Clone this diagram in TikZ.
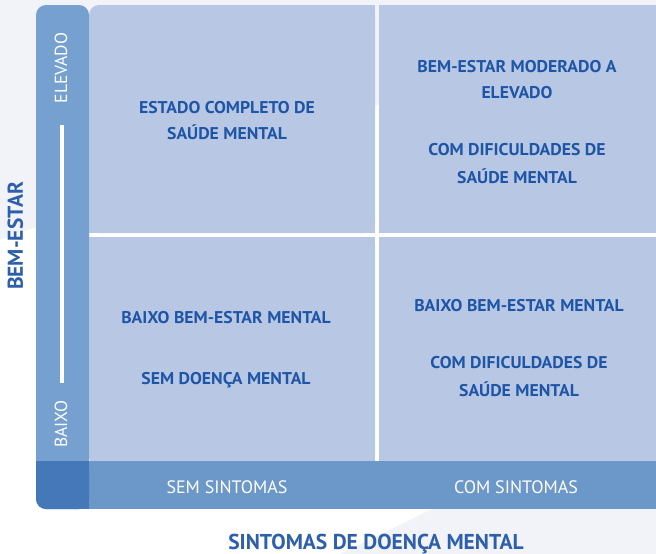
\documentclass[tikz,border=0pt]{standalone}
\usepackage{fontspec}
\setmainfont{PT Sans}
\newfontfamily\cellfont{PT Sans}[FakeStretch=1.04]
\begin{document}
\begin{tikzpicture}[x=1pt,y=-1pt,
  celltxt/.style={font=\cellfont\bfseries\fontsize{17}{27}\selectfont, text=txtblue, align=center, anchor=base, inner sep=0pt},
  axtxt/.style={font=\fontsize{18}{20}\selectfont, text=white, anchor=base, inner sep=0pt},
  vaxtxt/.style={font=\fontsize{17.5}{20}\selectfont, text=white, anchor=base, inner sep=0pt, rotate=90},
  titletxt/.style={font=\bfseries\fontsize{21.5}{24}\selectfont, text=titleblue, anchor=base, inner sep=0pt}]
\definecolor{txtblue}{HTML}{1F55A6}
\definecolor{titleblue}{HTML}{2D5FAA}
\definecolor{cellblue}{HTML}{B8C8E4}
\definecolor{vbar}{HTML}{76A0CF}
\definecolor{hbar}{HTML}{6B97C9}
\definecolor{corner}{HTML}{4478B9}
\definecolor{bgtint}{HTML}{F1F3F8}
\useasboundingbox (0,0) rectangle (656,554);
% background tints
\fill[white] (0,0) rectangle (656,554);
\fill[bgtint] (0,0) -- (656,0) -- (656,5) -- (0,240) -- cycle;
\fill[bgtint] (656,400) -- (656,554) -- (340,554) -- cycle;
% cells
\fill[cellblue, rounded corners=10pt] (89,5) rectangle (375,233);
\fill[cellblue] (105,5) rectangle (375,233);
\fill[cellblue] (89,20) rectangle (375,233);
\fill[cellblue] (379,5) rectangle (656,233);
\fill[cellblue, rounded corners=8pt] (89,237) rectangle (375,465);
\fill[cellblue] (105,237) rectangle (375,465);
\fill[cellblue] (89,237) rectangle (375,445);
\fill[cellblue] (379,237) rectangle (656,465);
% bars
\fill[vbar, rounded corners=10pt] (36,5) rectangle (89,509);
\fill[hbar] (89,461) rectangle (656,509);
\fill[corner, rounded corners=10pt] (36,461) rectangle (89,509);
\fill[corner] (36,461) rectangle (89,475);
\fill[corner] (70,461) rectangle (89,509);
% white scale line
\coordinate (lt) at (62,125);
\coordinate (lb) at (62,383);
\draw[white, line width=4pt] (lt) -- (lb);
% axis labels in bars
\node[vaxtxt] (elev) at (67,68) {ELEVADO};
\node[vaxtxt] (baixo) at (67,424) {BAIXO};
\node[axtxt] (sem) at (227,493) {SEM SINTOMAS};
\node[axtxt] (com) at (516,493) {COM SINTOMAS};
% titles
\node[titletxt, rotate=90] (bem) at (23,236) {BEM-ESTAR};
\node[titletxt] (sint) at (376,549) {SINTOMAS DE DOENÇA MENTAL};
% cell texts (anchor=base is the baseline of the last line)
\node[celltxt] (tl) at (227,139) {ESTADO COMPLETO DE\\[-1pt]SAÚDE MENTAL};
\node[celltxt] (tr1) at (517,98) {BEM-ESTAR MODERADO A\\[-1pt]ELEVADO};
\node[celltxt] (tr2) at (517,183) {COM DIFICULDADES DE\\[1pt]SAÚDE MENTAL};
\node[celltxt] (bl1) at (226,323) {BAIXO BEM-ESTAR MENTAL};
\node[celltxt] (bl2) at (226,384) {SEM DOENÇA MENTAL};
\node[celltxt] (br1) at (519,311) {BAIXO BEM-ESTAR MENTAL};
\node[celltxt] (br2) at (519,396) {COM DIFICULDADES DE\\[1pt]SAÚDE MENTAL};
\end{tikzpicture}
\end{document}
